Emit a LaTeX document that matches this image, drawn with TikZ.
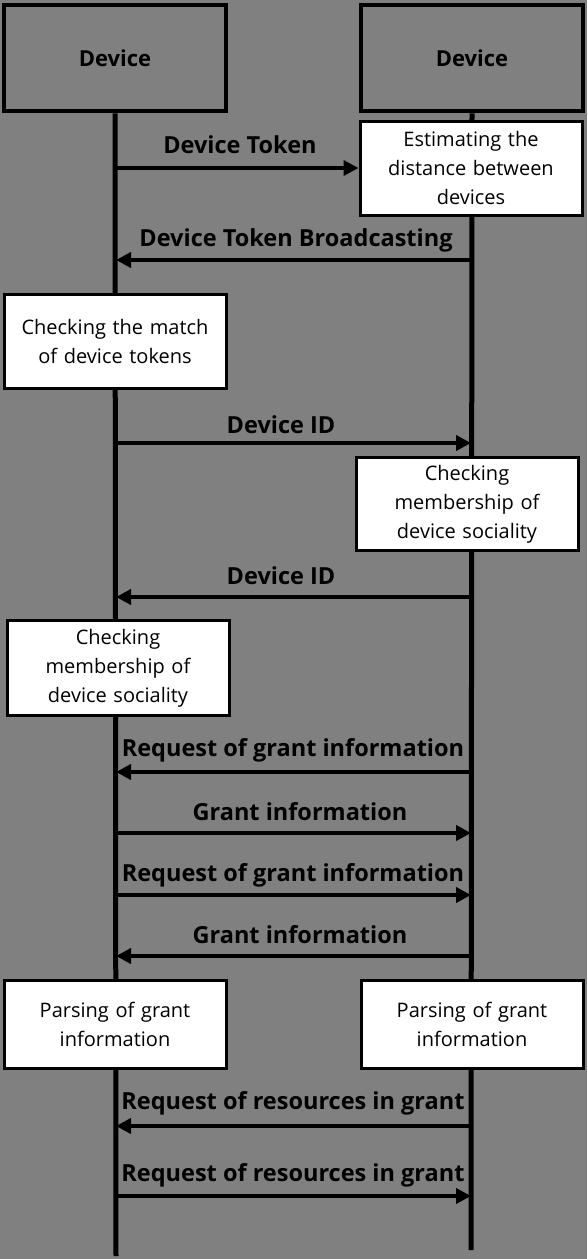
\documentclass[tikz,border=0pt]{standalone}
\usepackage{fontspec}
\setmainfont{Open Sans}
\usetikzlibrary{arrows.meta}

\tikzset{
  devbox/.style={draw,line width=4.5pt,minimum width=222pt,minimum height=106pt,font=\bfseries\fontsize{22}{26}\selectfont},
  stepbox/.style={draw,fill=white,line width=3pt,text width=214pt,align=center,minimum width=222pt,inner sep=0pt,font=\fontsize{20}{29}\selectfont},
  msg/.style={-{Triangle[length=15pt,width=15pt]},line width=4pt},
  msglabel/.style={font=\bfseries\fontsize{23.5}{26}\selectfont},
  lifeline/.style={line width=5pt}
}

\begin{document}
\begin{tikzpicture}[x=1pt,y=-1pt]
        \def\lx{116}
        \def\rx{471}

        %------------------
        % 背景
        %------------------
        \fill[black!50] (0,0) rectangle (587,1259);
        \useasboundingbox (0,0) rectangle (587,1259);

        %------------------
        % デバイス
        %------------------
        \node[devbox] (devL) at (115,58) {Device};
        \node[devbox] (devR) at (472,58) {Device};

        \coordinate (endL) at (\lx,1256);
        \coordinate (endR) at (\rx,1250);
        \draw[lifeline] (devL.south) -- (endL);
        \draw[lifeline] (devR.south) -- (endR);

        %------------------
        % 処理
        %------------------
        \node[stepbox,minimum height=94pt] (estim) at (471,168) {Estimating the\\ distance between\\ devices};
        \node[stepbox,minimum height=94pt] (match) at (115,341) {Checking the match\\ of device tokens};
        \node[stepbox,minimum height=93pt] (memR) at (467,504) {Checking\\ membership of\\ device sociality};
        \node[stepbox,minimum height=95pt] (memL) at (118,668) {Checking\\ membership of\\ device sociality};
        \node[stepbox,minimum height=88pt] (parseL) at (115,1024) {Parsing of grant\\ information};
        \node[stepbox,minimum height=88pt] (parseR) at (472,1024) {Parsing of grant\\ information};

        %------------------
        % メッセージ
        %------------------
        \coordinate (a1) at (\lx,168);
        \draw[msg] (a1) -- (estim.west);
        \node[msglabel] (t1) at (240,145) {Device Token};

        \coordinate (a2) at (\rx,260);
        \coordinate (b2) at (\lx,260);
        \draw[msg] (a2) -- (b2);
        \node[msglabel] (t2) at (296,240) {Device Token Broadcasting};

        \coordinate (a3) at (\lx,443);
        \coordinate (b3) at (\rx,443);
        \draw[msg] (a3) -- (b3);
        \node[msglabel] (t3) at (281,425) {Device ID};

        \coordinate (a4) at (\rx,597);
        \coordinate (b4) at (\lx,597);
        \draw[msg] (a4) -- (b4);
        \node[msglabel] (t4) at (281,576) {Device ID};

        \coordinate (a5) at (\rx,772);
        \coordinate (b5) at (\lx,772);
        \draw[msg] (a5) -- (b5);
        \node[msglabel] (t5) at (293,750) {Request of grant information};

        \coordinate (a6) at (\lx,833);
        \coordinate (b6) at (\rx,833);
        \draw[msg] (a6) -- (b6);
        \node[msglabel] (t6) at (300,812) {Grant information};

        \coordinate (a7) at (\lx,895);
        \coordinate (b7) at (\rx,895);
        \draw[msg] (a7) -- (b7);
        \node[msglabel] (t7) at (293,875) {Request of grant information};

        \coordinate (a8) at (\rx,956);
        \coordinate (b8) at (\lx,956);
        \draw[msg] (a8) -- (b8);
        \node[msglabel] (t8) at (300,935) {Grant information};

        \coordinate (a9) at (\rx,1126);
        \coordinate (b9) at (\lx,1126);
        \draw[msg] (a9) -- (b9);
        \node[msglabel] (t9) at (293,1103) {Request of resources in grant};

        \coordinate (a10) at (\lx,1196);
        \coordinate (b10) at (\rx,1196);
        \draw[msg] (a10) -- (b10);
        \node[msglabel] (t10) at (293,1175) {Request of resources in grant};
      \end{tikzpicture}
\end{document}
